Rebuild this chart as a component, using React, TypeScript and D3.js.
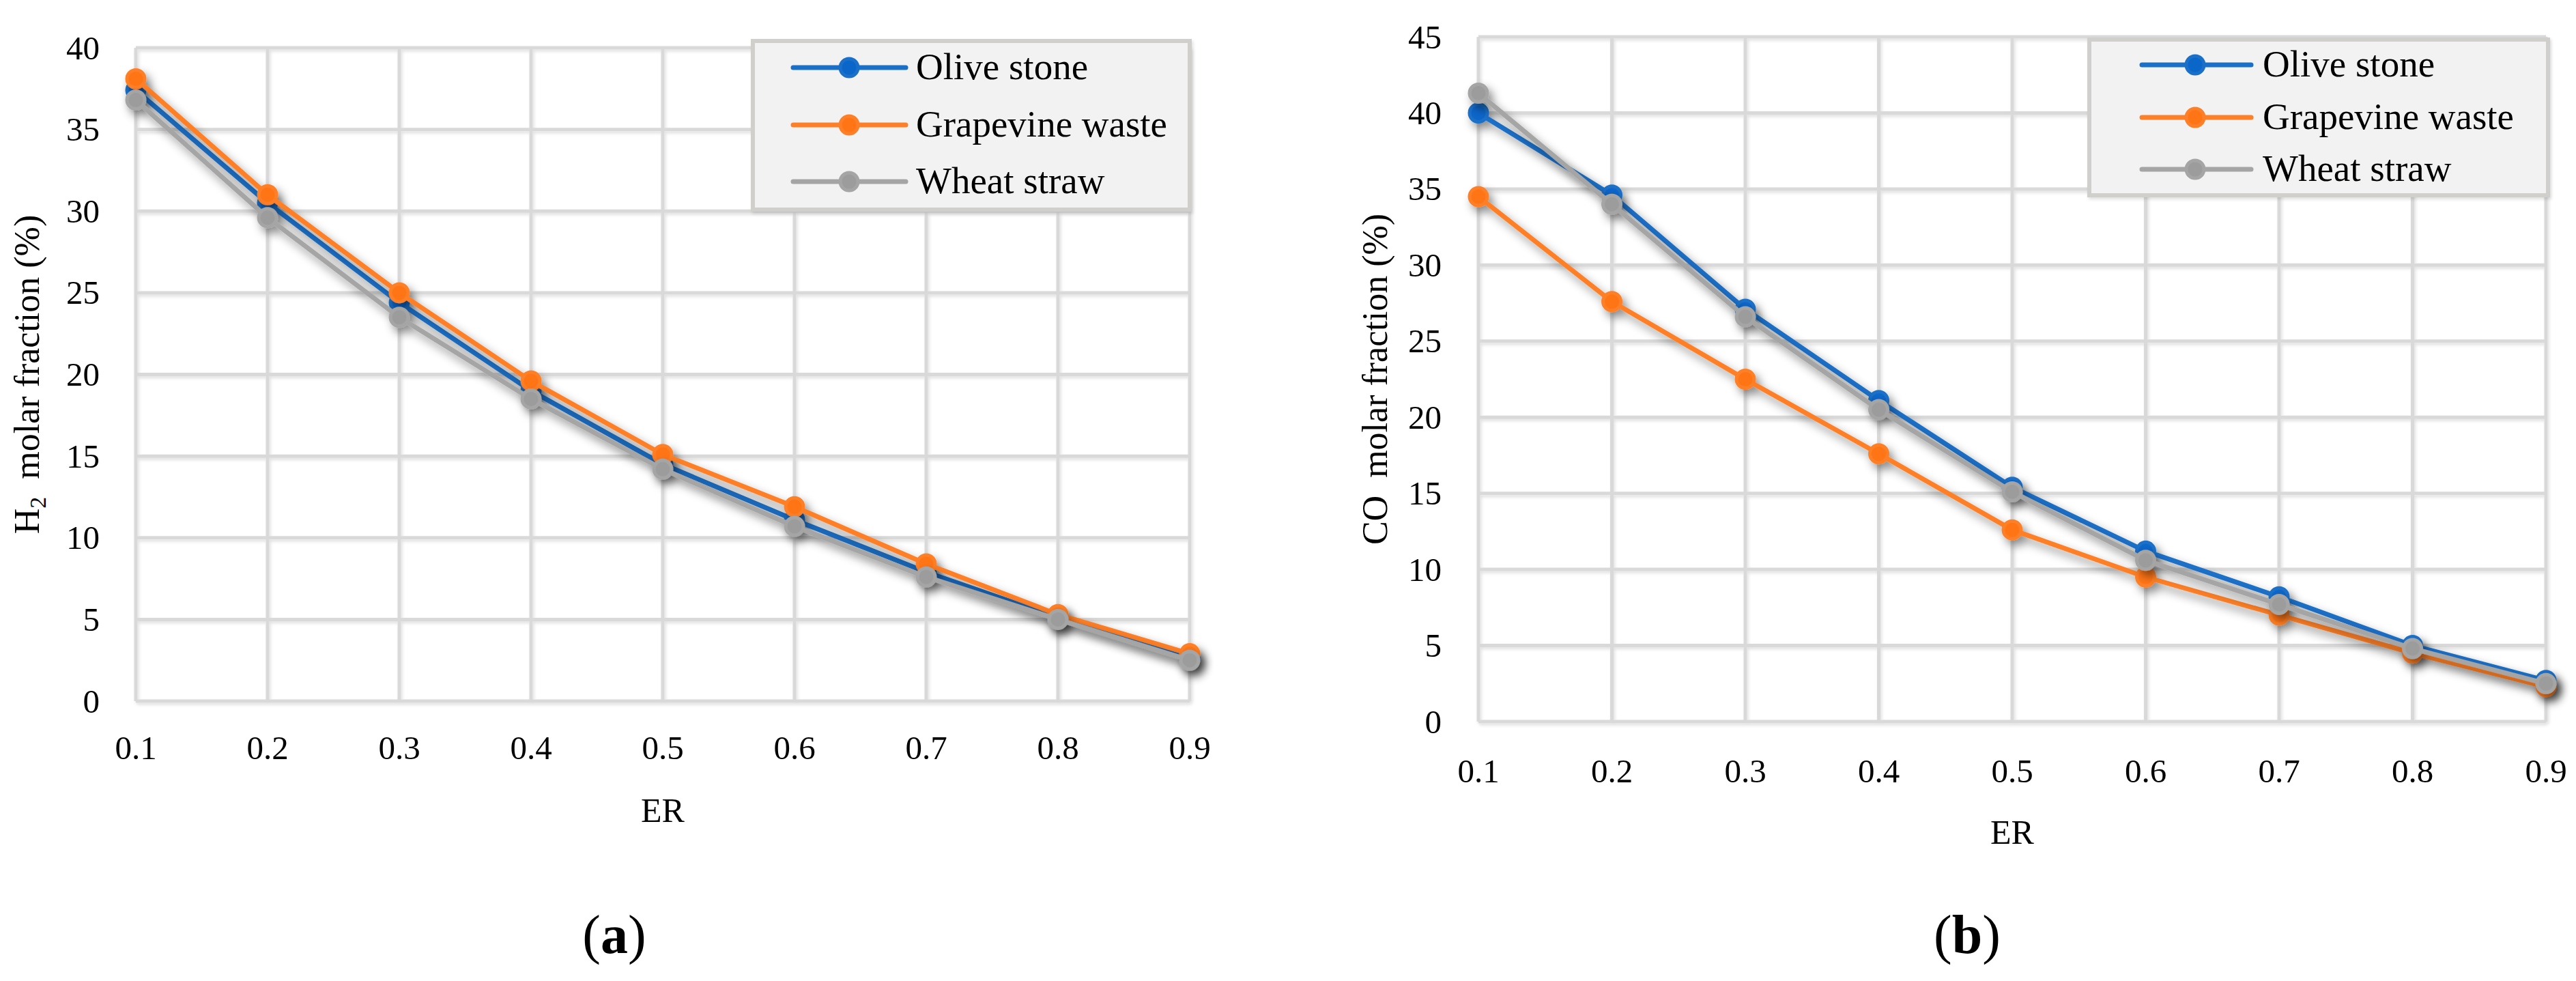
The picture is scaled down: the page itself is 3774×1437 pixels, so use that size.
import React from "react";
import * as d3 from "d3";

const erValues = [0.1, 0.2, 0.3, 0.4, 0.5, 0.6, 0.7, 0.8, 0.9];
const erTickLabels = ["0.1", "0.2", "0.3", "0.4", "0.5", "0.6", "0.7", "0.8", "0.9"];

const seriesNames = ["Olive stone", "Grapevine waste", "Wheat straw"];
const seriesColors = ["#1a70c8", "#fe7f27", "#a5a5a5"];
const markerFill = ["#0b66c9", "#ff7414", "#9c9c9c"];

// (a) H2 molar fraction (%)
const h2Olive = [37.4, 30.5, 24.4, 19.0, 14.5, 11.1, 7.9, 5.1, 2.6];
const h2Grape = [38.1, 31.0, 25.0, 19.6, 15.1, 11.9, 8.4, 5.3, 2.9];
const h2Wheat = [36.8, 29.6, 23.5, 18.5, 14.2, 10.7, 7.6, 5.0, 2.5];
const h2Ticks = [0, 5, 10, 15, 20, 25, 30, 35, 40];

// (b) CO molar fraction (%)
const coOlive = [40.0, 34.6, 27.1, 21.1, 15.4, 11.2, 8.2, 5.0, 2.7];
const coGrape = [34.5, 27.6, 22.5, 17.6, 12.6, 9.5, 7.0, 4.5, 2.3];
const coWheat = [41.3, 34.0, 26.6, 20.5, 15.1, 10.6, 7.7, 4.8, 2.5];
const coTicks = [0, 5, 10, 15, 20, 25, 30, 35, 40, 45];

const FONT = "'Liberation Serif', 'Times New Roman', serif";

type PanelProps = {
  id: string;
  series: number[][];
  yTicks: number[];
  yMax: number;
  x0: number;
  x1: number;
  yTop: number;
  yBottom: number;
  tickLabelRight: number;
  xTickBaseline: number;
  erBaseline: number;
  titleX: number;
  titleMain: string;
  titleSub: string | null;
  legend: { x0: number; x1: number; y0: number; y1: number; rows: number[]; lineX0: number; lineX1: number; markX: number; textX: number };
  panelLabel: string;
  panelLabelX: number;
};

function Panel(p: PanelProps) {
  const x = d3.scaleLinear().domain([0.1, 0.9]).range([p.x0, p.x1]);
  const y = d3.scaleLinear().domain([0, p.yMax]).range([p.yBottom, p.yTop]);
  const line = d3
    .line<number>()
    .x((_, i) => x(erValues[i]))
    .y((d) => y(d));
  const midY = (p.yTop + p.yBottom) / 2;
  const midX = (p.x0 + p.x1) / 2;
  const L = p.legend;
  return (
    <g>
      {/* grid */}
      <g filter="url(#gridShadow)" stroke="#d9d9d9" strokeWidth={5}>
        {p.yTicks.map((t) => (
          <line key={"h" + t} x1={p.x0} x2={p.x1} y1={y(t)} y2={y(t)} />
        ))}
        {erValues.map((v) => (
          <line key={"v" + v} x1={x(v)} x2={x(v)} y1={p.yTop} y2={p.yBottom} />
        ))}
      </g>
      {/* y tick labels */}
      <g fontFamily={FONT} fontSize={49} fill="#000" textAnchor="end">
        {p.yTicks.map((t) => (
          <text key={"yl" + t} x={p.tickLabelRight} y={y(t)} dominantBaseline="central">
            {t}
          </text>
        ))}
      </g>
      {/* x tick labels */}
      <g fontFamily={FONT} fontSize={49} fill="#000" textAnchor="middle">
        {erValues.map((v, i) => (
          <text key={"xl" + v} x={x(v)} y={p.xTickBaseline}>
            {erTickLabels[i]}
          </text>
        ))}
      </g>
      {/* axis titles */}
      <text x={midX} y={p.erBaseline} fontFamily={FONT} fontSize={50} textAnchor="middle">
        ER
      </text>
      <text
        transform={`translate(${p.titleX},${midY}) rotate(-90)`}
        fontFamily={FONT}
        fontSize={52}
        textAnchor="middle"
      >
        {p.titleMain}
        {p.titleSub ? (
          <tspan fontSize={34} dy={10}>
            {p.titleSub}
          </tspan>
        ) : null}
        <tspan dy={p.titleSub ? -10 : 0}>{"\u00a0\u00a0molar fraction (%)"}</tspan>
      </text>
      {/* series */}
      {p.series.map((s, si) => (
        <g key={"s" + si} filter="url(#lineShadow)">
          <path d={line(s) || ""} fill="none" stroke={seriesColors[si]} strokeWidth={7} strokeLinejoin="round" />
          {s.map((v, i) => (
            <circle
              key={i}
              cx={x(erValues[i])}
              cy={y(v)}
              r={13}
              fill={markerFill[si]}
              stroke={seriesColors[si]}
              strokeWidth={5}
            />
          ))}
        </g>
      ))}
      {/* legend */}
      <g filter="url(#gridShadow)">
        <rect x={L.x0} y={L.y0} width={L.x1 - L.x0} height={L.y1 - L.y0} fill="#f2f2f2" stroke="#d0cfcc" strokeWidth={6} />
      </g>
      {seriesNames.map((n, si) => (
        <g key={"lg" + si}>
          <line x1={L.lineX0} x2={L.lineX1} y1={L.rows[si]} y2={L.rows[si]} stroke={seriesColors[si]} strokeWidth={7} strokeLinecap="round" />
          <circle cx={L.markX} cy={L.rows[si]} r={13} fill={markerFill[si]} stroke={seriesColors[si]} strokeWidth={5} />
          <text x={L.textX} y={L.rows[si] + 17} fontFamily={FONT} fontSize={55} fill="#000">
            {n}
          </text>
        </g>
      ))}
      {/* panel label */}
      <text x={p.panelLabelX} y={1396} fontFamily={FONT} fontSize={80} textAnchor="middle">
        (<tspan fontWeight="bold">{p.panelLabel}</tspan>)
      </text>
    </g>
  );
}

export default function App() {
  return (
    <div>
      <style>{"body{margin:0;background:#fff}"}</style>
      <svg width={3774} height={1437} viewBox="0 0 3774 1437" style={{ display: "block", background: "#fff" }}>
        <defs>
          <filter id="lineShadow" x="-20%" y="-20%" width="140%" height="140%">
            <feDropShadow dx={6} dy={8} stdDeviation={7} floodColor="#000" floodOpacity={0.45} />
          </filter>
          <filter id="gridShadow" x="-5%" y="-5%" width="110%" height="110%">
            <feDropShadow dx={2} dy={3} stdDeviation={2} floodColor="#000" floodOpacity={0.12} />
          </filter>
        </defs>
        <Panel
          id="a"
          series={[h2Olive, h2Grape, h2Wheat]}
          yTicks={h2Ticks}
          yMax={40}
          x0={199}
          x1={1743}
          yTop={70}
          yBottom={1027}
          tickLabelRight={146}
          xTickBaseline={1112}
          erBaseline={1204}
          titleX={57}
          titleMain="H"
          titleSub="2"
          legend={{ x0: 1103, x1: 1743, y0: 60, y1: 307, rows: [99, 183, 266], lineX0: 1162, lineX1: 1327, markX: 1244, textX: 1342 }}
          panelLabel="a"
          panelLabelX={900}
        />
        <Panel
          id="b"
          series={[coOlive, coGrape, coWheat]}
          yTicks={coTicks}
          yMax={45}
          x0={2166}
          x1={3730}
          yTop={54}
          yBottom={1057}
          tickLabelRight={2112}
          xTickBaseline={1146}
          erBaseline={1236}
          titleX={2032}
          titleMain="CO"
          titleSub={null}
          legend={{ x0: 3061, x1: 3733, y0: 58, y1: 286, rows: [95, 172, 248], lineX0: 3138, lineX1: 3298, markX: 3216, textX: 3315 }}
          panelLabel="b"
          panelLabelX={2882}
        />
      </svg>
    </div>
  );
}
